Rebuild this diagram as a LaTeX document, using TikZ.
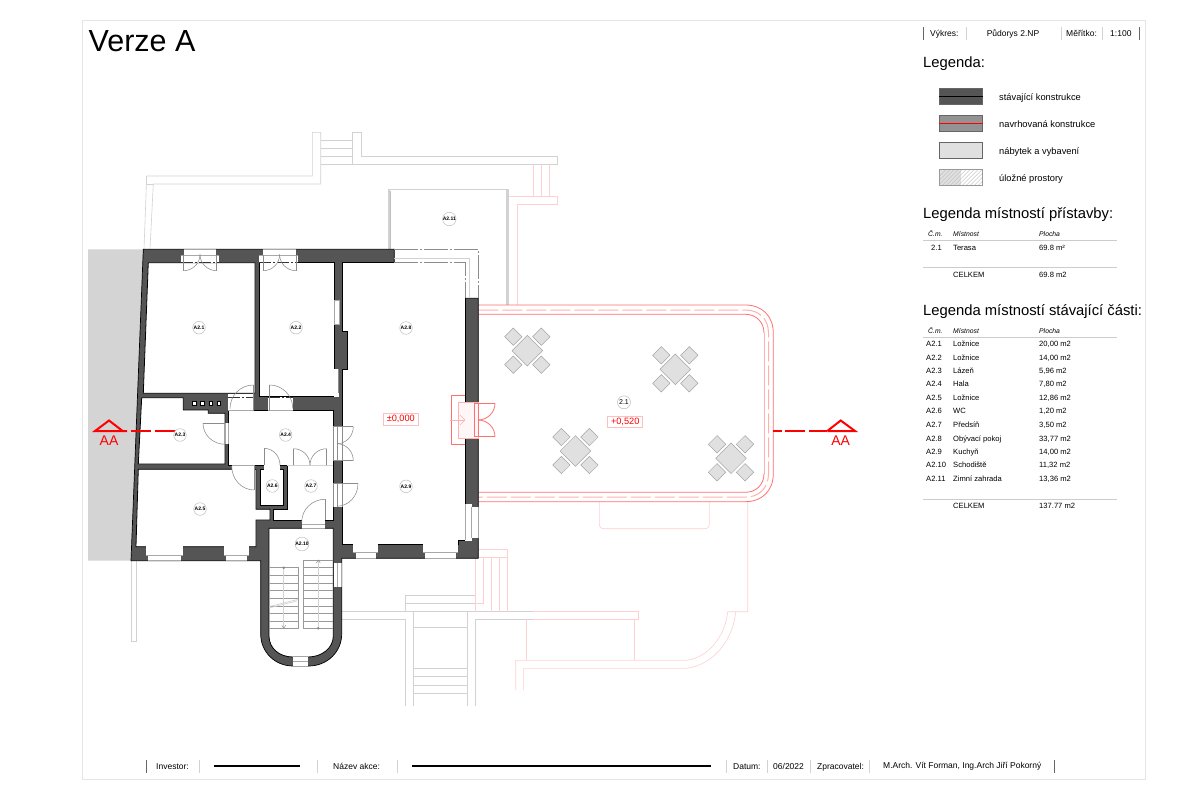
\documentclass[tikz,border=0pt]{standalone}
\usepackage{fontspec}
\setmainfont{Liberation Sans}
\usetikzlibrary{calc}
\definecolor{walld}{HTML}{555555}
\definecolor{ctx}{HTML}{D2D2D2}
\definecolor{ctxr}{HTML}{FFD0D0}
\definecolor{terr}{HTML}{FF7070}
\definecolor{terrd}{HTML}{FFB0B0}
\definecolor{furn}{HTML}{E0E0E0}
\definecolor{secr}{HTML}{FF0000}
\tikzset{
 wall/.style={fill=walld,draw=black,line width=.7pt,line join=miter},
 room/.style={fill=white,draw=black,line width=.8pt},
 gap/.style={fill=white,draw=none},
 win/.style={draw=ctx!80!black,line width=.6pt},
 door/.style={draw=gray!90,line width=.55pt},
 ctxl/.style={draw=ctx,line width=.6pt},
 ctxrl/.style={draw=ctxr,line width=.6pt},
 tag/.style={circle,draw=gray!60,fill=white,line width=.4pt,inner sep=0pt,minimum size=12.6pt,font=\fontsize{5}{6}\selectfont\bfseries},
 lev/.style={draw=red!25,fill=white,line width=.6pt,inner sep=0pt,text=red,minimum width=35pt,minimum height=11.5pt,font=\fontsize{9.2}{10}\selectfont},
 sect/.style={draw=secr,line width=2pt},
 secttxt/.style={text=secr,font=\fontsize{14}{16}\selectfont,inner sep=0pt},
 small/.style={font=\fontsize{7.6}{9}\selectfont,anchor=base west,inner sep=0pt},
 foot/.style={font=\fontsize{8.5}{10}\selectfont,anchor=base west,inner sep=0pt},
 footc/.style={font=\fontsize{8.5}{10}\selectfont,anchor=base,inner sep=0pt},
 legt/.style={font=\fontsize{9.3}{11}\selectfont,anchor=base west,inner sep=0pt},
 head/.style={font=\fontsize{6.8}{8}\selectfont\itshape,anchor=base west,inner sep=0pt},
 big/.style={font=\fontsize{14.8}{17}\selectfont,anchor=base west,inner sep=0pt},
 sepl/.style={draw=gray!35,line width=.7pt},
 sepd/.style={draw=gray!80!black,line width=1pt},
 rule/.style={draw=gray!40,line width=.7pt},
 legbox/.style={draw=gray!80!black,line width=.7pt},
}
\newcommand\qarc[7][door]{%
 \pgfmathsetmacro\pax{#4+0.5523*(#6-#2)}\pgfmathsetmacro\pay{#5+0.5523*(#7-#3)}%
 \pgfmathsetmacro\pbx{#6+0.5523*(#4-#2)}\pgfmathsetmacro\pby{#7+0.5523*(#5-#3)}%
 \draw[#1] (#4,#5) .. controls (\pax,\pay) and (\pbx,\pby) .. (#6,#7);}
\newcommand\dtable[2]{%
 \foreach \dx/\dy in {-14/-14,14/-14,-14/14,14/14}{%
  \draw[fill=furn,draw=gray!70,line width=.5pt] ($(#1,#2)+(\dx,\dy)+(-8.7,0)$) -- ($(#1,#2)+(\dx,\dy)+(0,-8.7)$) -- ($(#1,#2)+(\dx,\dy)+(8.7,0)$) -- ($(#1,#2)+(\dx,\dy)+(0,8.7)$) -- cycle;}
 \draw[fill=furn,draw=gray!70,line width=.5pt] (#1-15.3,#2) -- (#1,#2-15.3) -- (#1+15.3,#2) -- (#1,#2+15.3) -- cycle;}
\begin{document}
\begin{tikzpicture}[x=1pt,y=-1pt]
\useasboundingbox (0,0) rectangle (1200,800);
\fill[white] (0,0) rectangle (1200,800);
\draw[draw=gray!20,line width=.7pt] (82,20) rectangle (1145.5,779.5);
% neighbouring building
\fill[ctx!95!white] (88,249.3) -- (143.3,249.3) -- (131,560.7) -- (88,560.7) -- cycle;
% context, grey
\draw[ctxl] (150,249.3) -- (153.3,184) -- (320.7,184) -- (320.7,132.3) -- (312.3,132.3) -- (312.3,176) -- (146.7,176) -- (144,249.3);
\draw[ctxl] (146.7,176) -- (146.7,184) -- (153.3,184);
\foreach \yy in {140,148,156,164.3}{\draw[ctxl] (320.7,\yy) -- (352.7,\yy);}
\draw[ctxl] (352.7,132.3) -- (361.7,132.3) -- (361.7,156.7) -- (557.7,156.7) -- (557.7,164.3) -- (352.7,164.3) -- cycle;
\draw[ctxl] (131.7,560.7) -- (131.7,641.7) -- (136.7,641.7) -- (136.7,560.7);
\draw[ctxl] (341.7,611.7) -- (533.3,611.7);
\draw[ctxl] (341.7,619.3) -- (405.7,619.3) -- (405.7,706);
\draw[ctxl] (475.7,706) -- (475.7,619.3) -- (533.3,619.3);
\draw[ctxl] (413.3,611.7) -- (413.3,706);
\draw[ctxl] (467.3,611.7) -- (467.3,706);
\foreach \yy in {627.3,668.3,676.3,685.3,693.3}{\draw[ctxl] (413.3,\yy) -- (467.3,\yy);}
\draw[ctxl] (405.7,611.7) -- (405.7,595.3) -- (475.7,595.3);
\draw[ctxl] (405.7,603.3) -- (475.7,603.3);
% context, red
\draw[ctxrl] (509.3,196) -- (557.7,196) -- (557.7,204.3) -- (517.3,204.3) -- (517.3,305);
\foreach \xx in {533.3,541.7,549.7}{\draw[ctxrl] (\xx,164.3) -- (\xx,196);}
\draw[ctxrl] (478.3,549.3) -- (507.3,549.3) -- (507.3,611.7);
\draw[ctxrl] (478.3,557.3) -- (507.3,557.3);
\draw[ctxrl] (475.7,557.3) -- (475.7,611.7);
\draw[ctxrl] (483.3,557.3) -- (483.3,603.3) -- (475.7,603.3);
\draw[ctxrl] (491.7,557.3) -- (491.7,611.7);
\draw[ctxrl] (499.7,557.3) -- (499.7,611.7);
\draw[ctxrl] (533.3,611.7) -- (638.3,611.7) -- (638.3,619.3) -- (533.3,619.3);
\draw[ctxrl] (526.7,619.3) -- (526.7,660.3);
\draw[ctxrl] (634.3,619.3) -- (634.3,660.3);
\draw[ctxrl] (515.7,690) -- (515.7,660.3) -- (686.7,660.3) .. controls (708,657.5) and (725,637) .. (727.7,611.7) -- (747.7,611.7) -- (747.7,501.7);
\draw[ctxrl] (523.3,690) -- (523.3,668.3) -- (686.7,668.3) .. controls (714,664.5) and (733,640) .. (735.7,611.7);
\draw[ctxrl] (599.3,501.7) -- (599.3,523.7) .. controls (599.3,527) and (601,528.7) .. (604.3,528.7) -- (704.3,528.7) .. controls (707.6,528.7) and (709.3,527) .. (709.3,523.7) -- (709.3,501.7);
% winter garden
\draw[draw=ctx,line width=1.6pt] (388.8,249.3) -- (388.8,189.6) -- (507.8,189.6);
\draw[draw=ctx,line width=3pt] (507.3,188.8) -- (507.3,305);
\draw[draw=gray!50,line width=.4pt] (390,249.3) -- (390,191);
% terrace
\draw[terr,line width=.8pt] (478.3,305) -- (745.3,305) .. controls (762,305) and (773.3,316) .. (773.3,333) -- (773.3,473.7) .. controls (773.3,490.7) and (762,501.7) .. (745.3,501.7) -- (478.3,501.7);
\draw[terrd,line width=1pt,dash pattern=on 20pt off 4pt] (478.3,310) -- (745.3,310) .. controls (759,310) and (768.5,319) .. (768.5,333) -- (768.5,473.7) .. controls (768.5,488) and (759,497.2) .. (745.3,497.2) -- (478.3,497.2);
\draw[terr,line width=.8pt] (478.3,314.3) -- (745.3,314.3) .. controls (756,314.3) and (764,322) .. (764,333);
\draw[terrd,line width=.8pt] (764,333) -- (764,473.7);
\draw[terr,line width=.8pt] (764,473.7) .. controls (764,484.7) and (756,492.3) .. (745.3,492.3) -- (478.3,492.3);
% tables
\dtable{527.3}{350.7}
\dtable{675.3}{369.3}
\dtable{575.4}{451}
\dtable{731}{458.3}
% walls
\draw[wall] (143.3,249.3) -- (394.3,249.3) -- (394.3,262.7) -- (465,262.7) -- (465,298.3) -- (478.3,298.3) -- (478.3,558.3) -- (341.7,558.3) -- (341.7,634) .. controls (341.7,652) and (327,666) .. (308.7,666) -- (293,666) .. controls (275,666) and (260.7,652) .. (260.7,634) -- (260.7,560.7) -- (131,560.7) -- cycle;
% rooms
\draw[room] (148.3,262.7) -- (255,262.7) -- (255,393.3) -- (143.3,393.3) -- cycle;
\draw[room] (259.3,262.7) -- (334.3,262.7) -- (334.3,396.7) -- (259.3,396.7) -- cycle;
\draw[room] (141.7,397.7) -- (183.3,397.7) -- (183.3,410) -- (208.3,410) -- (208.3,413.3) -- (225,413.3) -- (225,464) -- (138.3,464) -- cycle;
\draw[room] (228.3,410.7) -- (333.3,410.7) -- (333.3,465) -- (228.3,465) -- cycle;
\draw[room] (138.3,469.3) -- (256,469.3) -- (256,509.3) -- (270,509.3) -- (270,520) -- (256,520) -- (256,546.7) -- (136,546.7) -- cycle;
\draw[room] (260.7,469.3) rectangle (283.3,505.7);
\draw[room] (287.3,466.7) -- (333.3,466.7) -- (333.3,520) -- (273.3,520) -- (273.3,509.3) -- (287.3,509.3) -- cycle;
\draw[room] (269,528.3) -- (333.3,528.3) -- (333.3,636) .. controls (333.3,648) and (322,657) .. (308,657) -- (293,657) .. controls (279,657) and (269,648) .. (269,636) -- cycle;
\draw[room] (342.7,262.7) -- (465,262.7) -- (465,540) -- (458,540) -- (458,544) -- (342.7,544) -- (342.7,369) -- (347.7,369) -- (347.7,331.7) -- (342.7,331.7) -- cycle;
% chimney flues
\foreach \xx in {194,202,210.7,218.7}{\draw[fill=white,draw=black,line width=.5pt] (\xx-1.8,401.5) rectangle (\xx+1.8,405.1);}
% open hall / A2.7 joint
\fill[white] (287.5,464.4) rectangle (333,467.2);
\draw[draw=ctx,line width=.8pt] (286.7,465.8) -- (333.3,465.8);
% glazing NE
\draw[draw=white,line width=1.4pt] (394.8,262.7) -- (465,262.7) -- (465,297.6);
\draw[draw=gray!90,line width=.6pt,dash pattern=on 24pt off 2pt on 2pt off 2pt] (394.3,249.3) -- (478.3,249.3) -- (478.3,298.3);
\draw[draw=ctx,line width=.6pt] (394.3,258.7) -- (469,258.7) -- (469,298.3);
\draw[draw=gray!90,line width=.6pt,dash pattern=on 24pt off 2pt on 2pt off 2pt] (394.3,262.7) -- (465,262.7) -- (465,298.3);
% windows and door gaps, north
\fill[gap] (184,249) rectangle (216,255.5);
\fill[gap] (180.7,255) rectangle (219.3,263.2);
\fill[gap] (263.3,249) rectangle (295.7,255.5);
\fill[gap] (259.3,255) rectangle (298.3,263.2);
\draw[win] (184,249.3) -- (216,249.3);
\draw[win] (263.3,249.3) -- (295.7,249.3);
\draw[win] (180.7,255) -- (219.3,255);
\draw[win] (259.3,255) -- (298.3,255);
\draw[draw=black!80,line width=.5pt,dash pattern=on 12pt off 2pt on 2pt off 2pt] (180.7,262.5) -- (219.3,262.5);
\draw[draw=black!80,line width=.5pt,dash pattern=on 12pt off 2pt on 2pt off 2pt] (259.3,262.5) -- (298.3,262.5);
\draw[door] (183.5,255) -- (183.5,270.7); \draw[door] (216.7,255) -- (216.7,270.7);
\qarc{183.5}{254.5}{183.5}{270.7}{200}{254.5}
\qarc{216.7}{254.5}{216.7}{270.7}{200}{254.5}
\draw[door] (263.3,255) -- (263.3,270.7); \draw[door] (296,255) -- (296,270.7);
\qarc{263.3}{254.5}{263.3}{270.7}{279.6}{254.5}
\qarc{296}{254.5}{296}{270.7}{279.6}{254.5}
% A2.2 east wall niches
\draw[fill=white,draw=gray!70,line width=.5pt] (334.3,300.7) rectangle (339.3,324);
\fill[gap] (333.8,369) rectangle (338.7,397.2);
\draw[door] (338.7,369) -- (338.7,393);
% doors at hall top
\fill[gap] (228.3,393.6) rectangle (253.3,411);
\fill[gap] (268.3,397.2) rectangle (293.3,411);
\draw[draw=black!80,line width=.5pt,dash pattern=on 12pt off 2pt on 2pt off 2pt] (228.3,397.5) -- (253.3,397.5);
\draw[draw=black!80,line width=.5pt,dash pattern=on 12pt off 2pt on 2pt off 2pt] (268.3,397.5) -- (293.3,397.5);
\draw[win] (228.3,410.7) -- (253.3,410.7);
\draw[win] (268.3,410.7) -- (293.3,410.7);
\draw[door] (253.3,385) -- (253.3,410.7);
\draw[door] (269.7,385) -- (269.7,410.7);
\qarc{253.3}{408.6}{253.3}{385}{230}{408.6}
\qarc{269.7}{408.6}{269.7}{385}{292.8}{408.6}
% door A2.3 - hall
\fill[gap] (224.5,423.3) rectangle (228.8,444.3);
\draw[win] (225,423.3) -- (225,444.3);
\draw[win] (228.3,423.3) -- (228.3,444.3);
\draw[door] (203,423.3) -- (225,423.3);
\qarc{225}{423.3}{203}{423.3}{225}{444.3}
% door hall - A2.5
\fill[gap] (231.7,464.5) rectangle (254,469.8);
\draw[win] (231.7,465) -- (254,465);
\draw[door] (254,465) -- (254,490);
\qarc{254}{466}{254}{490}{231.7}{466}
% door WC
\fill[gap] (264,464.5) rectangle (280,469.8);
\draw[door] (264,448.3) -- (264,465);
\qarc{264}{465}{264}{448.3}{280}{465}
% double door hall bottom
\draw[door] (293.3,448.7) -- (293.3,465);
\draw[door] (326.7,448.7) -- (326.7,465);
\qarc{293.3}{465}{293.3}{448.7}{310}{465}
\qarc{326.7}{465}{326.7}{448.7}{310}{465}
% east wall of hall, doors
\fill[gap] (332.8,426.7) rectangle (343.2,460.7);
\fill[gap] (332.8,483.3) rectangle (343.2,506.7);
\draw[door] (333.3,426.7) -- (333.3,460.7);
\draw[door] (337,426.7) -- (337,460.7);
\draw[door] (342.7,426.7) -- (342.7,460.7);
\draw[door] (333.3,483.3) -- (333.3,506.7);
\draw[door] (337,483.3) -- (337,506.7);
\draw[door] (342.7,483.3) -- (342.7,506.7);
\draw[door] (333.3,426.7) -- (353.3,426.7);
\draw[door] (333.3,460.7) -- (353.3,460.7);
\qarc{337}{426.7}{353.3}{426.7}{337}{443.7}
\qarc{337}{460.7}{353.3}{460.7}{337}{443.7}
\draw[door] (333.3,483.7) -- (358,483.7);
\qarc{337}{483.7}{358}{483.7}{337}{506.2}
% stair door
\fill[gap] (301.7,519.5) rectangle (325,528.8);
\draw[win] (301.7,524) -- (325,524);
\draw[win] (301.7,528.3) -- (325,528.3);
\draw[door] (325,499.3) -- (325,520);
\qarc{325}{522}{325}{499.3}{301.7}{522}
% south windows, west
\fill[gap] (146,546.2) rectangle (183.3,555);
\fill[gap] (148.3,554.5) rectangle (181,561.2);
\fill[gap] (224,546.2) rectangle (249.3,555);
\fill[gap] (225.7,554.5) rectangle (246.7,561.2);
\draw[win] (146,554.8) -- (183.3,554.8);
\draw[win] (148.3,560.7) -- (181,560.7);
\draw[win] (224,554.8) -- (249.3,554.8);
\draw[win] (225.7,560.7) -- (246.7,560.7);
% south windows, main room
\fill[gap] (353.3,543.5) rectangle (377.7,552);
\fill[gap] (355.7,551.5) rectangle (376,558.8);
\fill[gap] (422.7,543.5) rectangle (458,552);
\fill[gap] (424.7,551.5) rectangle (456,558.8);
\draw[win] (353.3,552) -- (377.7,552);
\draw[win] (355.7,558.3) -- (376,558.3);
\draw[win] (422.7,552) -- (458,552);
\draw[win] (424.7,558.3) -- (456,558.3);
% east window main room
\fill[gap] (464.5,504.3) rectangle (471.7,540.5);
\fill[gap] (471,507) rectangle (478.8,538);
\draw[win] (465,504.3) -- (465,540);
\draw[win] (471.7,507) -- (471.7,538);
\draw[win] (478.3,507) -- (478.3,538);
% stair windows
\fill[gap] (333.8,563.3) rectangle (342.2,586.7);
\draw[win] (337.7,563.3) -- (337.7,586.7);
\draw[win] (341.7,563.3) -- (341.7,586.7);
\fill[gap] (293,656.5) rectangle (308,666.5);
\draw[win] (293,661) -- (308,661);
\draw[win] (293,666) -- (308,666);
% stairs
\draw[draw=gray!80,line width=.6pt] (269,567.7) -- (298.3,567.7) -- (298.3,628.3) -- (269,628.3);
\draw[draw=gray!80,line width=.6pt] (333.3,560) -- (303.3,560) -- (303.3,628.3) -- (333.3,628.3);
\foreach \yy in {575.3,582.9,590.6,598.2,605.8,613.5,621}{\draw[draw=gray!80,line width=.6pt] (269,\yy) -- (298.3,\yy);}
\foreach \yy in {567.7,575.3,582.9,590.6,598.2,605.8,613.5,621}{\draw[draw=gray!80,line width=.6pt] (303.3,\yy) -- (333.3,\yy);}
\draw[draw=ctx,line width=.5pt] (283.7,567.7) -- (283.7,628.3);
\draw[draw=ctx,line width=.5pt] (318.3,560) -- (318.3,628.3);
\draw[draw=gray,line width=.4pt] (283.7,567.7) circle (1.1pt);
\draw[draw=gray,line width=.4pt] (318.3,628.3) circle (1.1pt);
\draw[draw=gray,line width=.4pt] (281.7,625.3) -- (283.7,628.3) -- (285.7,625.3);
\draw[draw=gray,line width=.4pt] (316.3,563) -- (318.3,560) -- (320.3,563);
\draw[draw=ctx,line width=.7pt] (269.5,606.5) -- (297.5,599.5);
\draw[draw=ctx,line width=.7pt] (269.5,607.8) -- (297.5,600.8);
% terrace door
\fill[gap] (464.5,402.3) rectangle (478.8,438.3);
\draw[draw=terr,line width=.8pt] (465,395) -- (451.3,395) -- (451.3,444.3) -- (465,444.3);
\draw[draw=terrd,line width=.8pt,fill=red!3] (458.3,402.3) rectangle (478.3,438.3);
\draw[draw=terr,line width=.8pt] (474.3,403.3) -- (495,403.3);
\draw[draw=terr,line width=.8pt] (474.3,436.7) -- (495,436.7);
\draw[draw=terr,line width=.8pt] (474.3,403.3) -- (474.3,436.7);
\draw[draw=terr,line width=.8pt] (478,403.3) -- (478,436.7);
\qarc[terr,line width=.8pt]{478}{403.3}{495}{403.3}{478}{420}
\qarc[terr,line width=.8pt]{478}{436.7}{495}{436.7}{478}{420}
\draw[draw=terrd,line width=.5pt] (450,420) -- (465,420);
\draw[draw=terrd,line width=.5pt] (460,415) -- (465,420) -- (460,425);
% section marks
\coordinate (sl0) at (95,431); \coordinate (sl1) at (127,431); \coordinate (sr0) at (855,431); \coordinate (sr1) at (827.3,431);
\draw[sect,line join=miter] (sl1) -- (sl0) -- (109,420.5) -- (122.7,431);
\draw[sect] (130.7,431) -- (151,431);
\draw[sect] (155,431) -- (176.7,431);
\draw[sect,line join=miter] (sr1) -- (sr0) -- (840.7,420.5) -- (827.3,431);
\draw[sect] (809.3,431) -- (827,431);
\draw[sect] (785,431) -- (805,431);
\draw[sect] (772.7,431) -- (781.7,431);
\node[secttxt] (aal) at (109,441) {AA};
\node[secttxt] (aar) at (840.7,441) {AA};
% room tags
\node[tag] (t1) at (199,327.7) {A2.1};
\node[tag] (t2) at (296,327.7) {A2.2};
\node[tag] (t3) at (180,435) {A2.3};
\node[tag] (t4) at (285.7,435) {A2.4};
\node[tag] (t5) at (200,509) {A2.5};
\node[tag] (t6) at (272.3,486) {A2.6};
\node[tag] (t7) at (311,486) {A2.7};
\node[tag] (t8) at (406,328) {A2.8};
\node[tag] (t9) at (406,486.3) {A2.9};
\node[tag] (t10) at (302,544) {A2.10};
\node[tag] (t11) at (449.3,219) {A2.11};
\node[tag,minimum size=13pt,font=\fontsize{7}{8}\selectfont] (t21) at (624,402.3) {2.1};
\node[lev] (lev0) at (400.8,419.2) {±0,000};
\node[lev] (lev1) at (625.2,421.7) {+0,520};
% title
\node[anchor=base west,inner sep=0pt,font=\fontsize{30.5}{36}\selectfont] (title) at (88.5,52) {Verze A};
% header
\draw[sepd] (923.3,27) -- (923.3,40); \draw[sepl] (966.7,27) -- (966.7,40); \draw[sepl] (1061.7,27) -- (1061.7,40); \draw[sepl] (1102.3,27) -- (1102.3,40); \draw[sepd] (1139,27) -- (1139,40);
\node[foot] (hv) at (930,36.5) {Výkres:};
\node[footc] (hp) at (1013,36.5) {Půdorys 2.NP};
\node[foot] (hm) at (1066,36.5) {Měřítko:};
\node[foot] (hs) at (1110,36.5) {1:100};
% legend
\node[big] (leg) at (923,67) {Legenda:};
\draw[legbox,fill=walld] (939,88.3) rectangle (982.7,104.7);
\draw[draw=black,line width=.8pt] (939,96.5) -- (982.7,96.5);
\draw[legbox,fill=gray!85] (939,115.3) rectangle (982.7,131.7);
\draw[draw=red,line width=.8pt] (939,123.5) -- (982.7,123.5);
\draw[legbox,fill=furn] (939,142.3) rectangle (982.7,158);
\begin{scope}
\clip (939,169.3) rectangle (982.7,185.7);
\fill[furn] (939,169.3) rectangle (961,185.7);
\foreach \xx in {930,934,...,990}{\draw[draw=gray!55,line width=.4pt] (\xx,185.7) -- (\xx+16.4,169.3);}
\end{scope}
\draw[draw=gray!80,line width=.7pt] (939,169.3) rectangle (982.7,185.7);
\node[legt] (l1) at (999,100) {stávající konstrukce};
\node[legt] (l2) at (999,127) {navrhovaná konstrukce};
\node[legt] (l3) at (999,154) {nábytek a vybavení};
\node[legt] (l4) at (999,181) {úložné prostory};
% table 1
\node[big] (t1h) at (923,218) {Legenda místností přístavby:};
\node[head] (a1) at (928,236.7) {Č.m.}; \node[head] (a2) at (953,236.7) {Místnost}; \node[head] (a3) at (1039,236.7) {Plocha};
\draw[rule] (923,240.7) -- (1117,240.7);
\node[small] (b1) at (931,250) {2.1}; \node[small] (b2) at (953,250) {Terasa}; \node[small] (b3) at (1039,250) {69.8 m²};
\draw[rule] (923,267.5) -- (1117,267.5);
\node[small] (c2) at (953,277) {CELKEM}; \node[small] (c3) at (1039,277) {69.8 m2};
% table 2
\node[big] (t2h) at (923,315) {Legenda místností stávající části:};
\node[head] (d1) at (928,333) {Č.m.}; \node[head] (d2) at (953,333) {Místnost}; \node[head] (d3) at (1039,333) {Plocha};
\draw[rule] (923,337.7) -- (1117,337.7);
\foreach \i/\yy/\nm/\ar in {1/346.7/Ložnice/{20,00 m2},2/360.3/Ložnice/{14,00 m2},3/373.7/Lázeň/{5,96 m2},4/386.7/Hala/{7,80 m2},5/400.3/Ložnice/{12,86 m2},6/413.7/WC/{1,20 m2},7/427.5/Předsíň/{3,50 m2},8/441/Obývací pokoj/{33,77 m2},9/454.5/Kuchyň/{14,00 m2},10/467.7/Schodiště/{11,32 m2},11/481.7/Zimní zahrada/{13,36 m2}}{
 \node[small] (ra\i) at (926,\yy) {A2.\i};
 \node[small] (rb\i) at (953,\yy) {\nm};
 \node[small] (rc\i) at (1039,\yy) {\ar};
}
\draw[rule] (923,499.3) -- (1117,499.3);
\node[small] (e2) at (953,508.7) {CELKEM}; \node[small] (e3) at (1039,508.7) {137.77 m2};
% footer
\draw[sepd] (146,760) -- (146,773);
\node[foot] (f1) at (156,769.5) {Investor:};
\draw[sepl] (199.3,760) -- (199.3,773);
\draw[draw=black,line width=1.2pt] (214,766) -- (300,766);
\draw[sepl] (317.3,760) -- (317.3,773);
\node[foot] (f2) at (333,769.5) {Název akce:};
\draw[sepl] (397.3,760) -- (397.3,773);
\draw[draw=black,line width=1.2pt] (412,766) -- (711,766);
\draw[sepl] (726.7,760) -- (726.7,773);
\node[foot] (f3) at (733,769.5) {Datum:};
\draw[sepl] (767.3,760) -- (767.3,773);
\node[foot] (f4) at (773,769.5) {06/2022};
\draw[sepl] (810.7,760) -- (810.7,773);
\node[foot] (f5) at (817,769.5) {Zpracovatel:};
\draw[sepl] (869.3,760) -- (869.3,773);
\node[foot] (f6) at (883,768.5) {M.Arch. Vít Forman, Ing.Arch Jiří Pokorný};
\draw[sepd] (1054,760) -- (1054,773);
\end{tikzpicture}
\end{document}
